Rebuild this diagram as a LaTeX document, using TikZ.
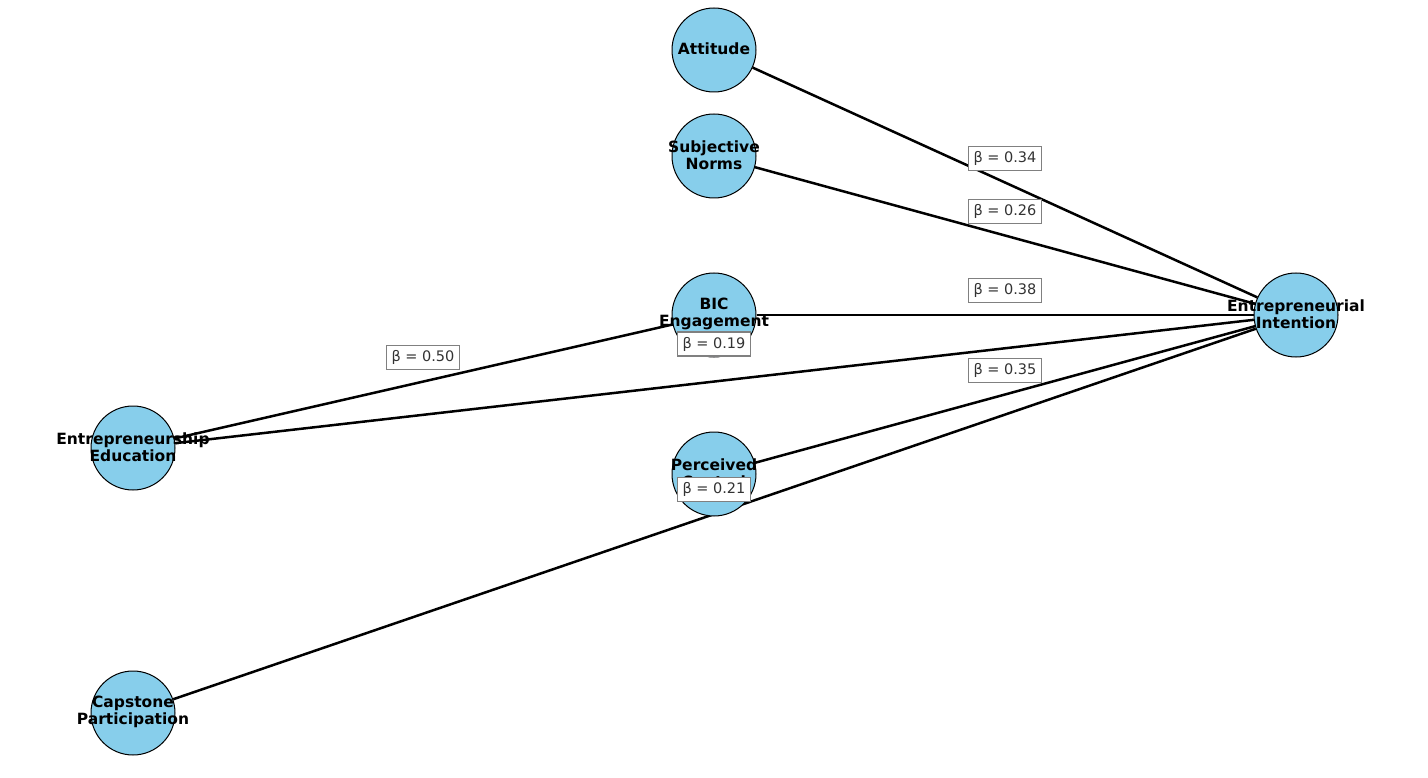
\documentclass[tikz,border=0pt]{standalone}
\usepackage{fontspec}
\setmainfont{DejaVu Sans}
\usetikzlibrary{backgrounds}
\definecolor{nodeblue}{HTML}{87CEEB}
\definecolor{labtext}{HTML}{333333}
\begin{document}
\begin{tikzpicture}[x=1pt,y=-1pt,
  concept/.style={circle,draw=black,line width=1pt,fill=nodeblue,minimum size=84pt,inner sep=0pt},
  ctext/.style={align=center,inner sep=0pt,yshift=1pt,font=\fontsize{15.5}{17}\selectfont\bfseries,text=black},
  link/.style={line width=2.5pt,black},
  beta/.style={draw=gray,line width=1.2pt,fill=white,inner xsep=5pt,inner ysep=5pt,
    font=\fontsize{14.5}{16}\selectfont,text=labtext}]
\useasboundingbox (0,0) rectangle (1428,778);
\node[concept] (att) at (714,50) {};
\node[concept] (sn) at (714,156) {};
\node[concept] (bic) at (714,315) {};
\node[concept] (pc) at (714,474) {};
\node[concept] (ei) at (1296,315) {};
\node[concept] (ee) at (133,448) {};
\node[concept] (cp) at (133,713) {};
\node[ctext] (att-t) at (att) {Attitude};
\node[ctext] (sn-t) at (sn) {Subjective\\Norms};
\node[ctext] (bic-t) at (bic) {BIC\\Engagement};
\node[ctext] (pc-t) at (pc) {Perceived\\Control};
\node[ctext] (ei-t) at (ei) {Entrepreneurial\\Intention};
\node[ctext] (ee-t) at (ee) {Entrepreneurship\\Education};
\node[ctext] (cp-t) at (cp) {Capstone\\Participation};
\begin{pgfonlayer}{background}
\draw[link] (att) -- (ei);
\draw[link] (sn) -- (ei);
\draw[link] (bic) -- (ei);
\draw[link] (ee) -- (bic);
\draw[link] (ee) -- (ei);
\draw[link] (pc) -- (ei);
\draw[link] (cp) -- (ei);
\end{pgfonlayer}
\node[beta] (l1) at (1005,158.5) {β = 0.34};
\node[beta] (l2) at (1005,211.5) {β = 0.26};
\node[beta] (l3) at (1005,290.5) {β = 0.38};
\node[beta] (l4) at (423,357.5) {β = 0.50};
\node[beta] (l5) at (714,344) {β = 0.19};
\node[beta] (l6) at (1005,370.5) {β = 0.35};
\node[beta] (l7) at (714,489.5) {β = 0.21};
\end{tikzpicture}
\end{document}
